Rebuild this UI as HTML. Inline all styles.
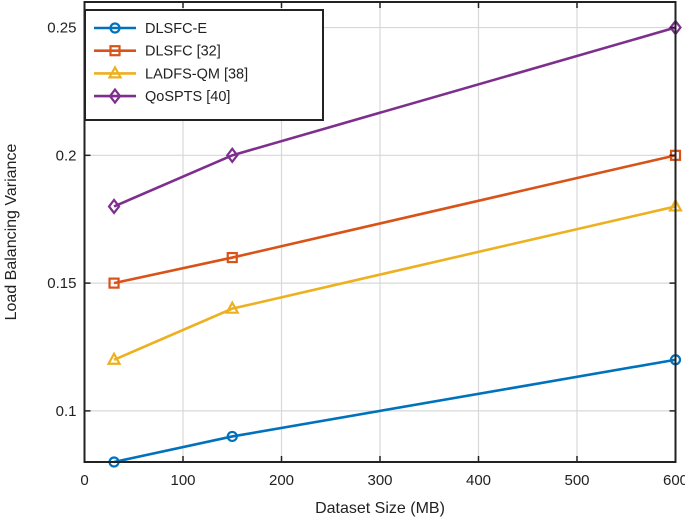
<!DOCTYPE html>
<html><head><meta charset="utf-8"><style>
body{margin:0;background:#fff}
svg{font-family:"Liberation Sans",Arial,sans-serif}
</style></head><body>
<svg id="chart" width="685" height="521">
<g id="grid"></g><g id="series"></g><g id="axes"></g><g id="legend"></g>
</svg>
<script>
const categories=[30,150,600];
const names=["DLSFC-E","DLSFC [32]","LADFS-QM [38]","QoSPTS [40]"];
const dlsfcE=[0.08,0.09,0.12];
const dlsfc=[0.15,0.16,0.20];
const ladfs=[0.12,0.14,0.18];
const qospts=[0.18,0.20,0.25];
const xTicks=[0,100,200,300,400,500,600];
const yTicks=[0.1,0.15,0.2,0.25];
const yTickLabels=["0.1","0.15","0.2","0.25"];
const L=84.5,R=675.5,T=2,B=462,x0=0,x1=600,y0=0.08,y1=0.26;
const sx=v=>L+(v-x0)/(x1-x0)*(R-L);
const sy=v=>B-(v-y0)/(y1-y0)*(B-T);
const NS="http://www.w3.org/2000/svg";
function mk(t,a,p){const e=document.createElementNS(NS,t);for(const k in a)e.setAttribute(k,a[k]);p.appendChild(e);return e;}
const grid=document.getElementById('grid'),axes=document.getElementById('axes'),ser=document.getElementById('series'),leg=document.getElementById('legend');
xTicks.forEach(v=>{
 const l=mk('line',{x1:sx(v),x2:sx(v),y1:T,y2:B,stroke:'#d8d8d8','stroke-width':1.2},grid);
 
 
 mk('line',{x1:sx(v),x2:sx(v),y1:B,y2:B-6,stroke:'#222','stroke-width':1.5},axes);
 mk('line',{x1:sx(v),x2:sx(v),y1:T,y2:T+6,stroke:'#222','stroke-width':1.5},axes);
 const t=mk('text',{x:sx(v),y:B+23,'text-anchor':'middle','font-size':15,fill:'#222'},axes);t.textContent=v;
 
 
});
yTicks.forEach((v,i)=>{
 const l=mk('line',{x1:L,x2:R,y1:sy(v),y2:sy(v),stroke:'#d8d8d8','stroke-width':1.2},grid);
 
 
 mk('line',{x1:L,x2:L+6,y1:sy(v),y2:sy(v),stroke:'#222','stroke-width':1.5},axes);
 mk('line',{x1:R,x2:R-6,y1:sy(v),y2:sy(v),stroke:'#222','stroke-width':1.5},axes);
 const t=mk('text',{x:L-8,y:sy(v)+5,'text-anchor':'end','font-size':15,fill:'#222'},axes);t.textContent=yTickLabels[i];
 
 
});
const fr=mk('rect',{x:L,y:T,width:R-L,height:B-T,fill:'none',stroke:'#222','stroke-width':2},axes);


const xt=mk('text',{x:(L+R)/2,y:513,'text-anchor':'middle','font-size':16,fill:'#222'},axes);xt.textContent='Dataset Size (MB)';


const yt=mk('text',{x:0,y:0,'text-anchor':'middle','font-size':16,fill:'#222',transform:`translate(16,${(T+B)/2}) rotate(-90)`},axes);yt.textContent='Load Balancing Variance';


const colors=['#0072bd','#d95319','#edb120','#7e2f8e'];
const data=[dlsfcE,dlsfc,ladfs,qospts];
const shapes=['circle','square','triangle','diamond'];
function marker(sh,x,y,c,p){
 if(sh==='circle')return mk('circle',{cx:x,cy:y,r:4.5,fill:'none',stroke:c,'stroke-width':2.2},p);
 if(sh==='square')return mk('rect',{x:x-4.5,y:y-4.5,width:9,height:9,fill:'none',stroke:c,'stroke-width':2.2},p);
 if(sh==='triangle')return mk('polygon',{points:`${x},${y-6} ${x-5.5},${y+4} ${x+5.5},${y+4}`,fill:'none',stroke:c,'stroke-width':2.2},p);
 return mk('polygon',{points:`${x},${y-6.5} ${x+5},${y} ${x},${y+6.5} ${x-5},${y}`,fill:'none',stroke:c,'stroke-width':2.2},p);
}
data.forEach((arr,s)=>{
 const g=mk('g',{},ser);
 
 
 const pl=mk('polyline',{points:arr.map((v,i)=>sx(categories[i])+','+sy(v)).join(' '),fill:'none',stroke:colors[s],'stroke-width':2.6},g);
 
 
 arr.forEach((v,i)=>{const m=marker(shapes[s],sx(categories[i]),sy(v),colors[s],g);
  
  });
});
const lb=mk('rect',{x:85,y:10,width:238,height:110,fill:'#fff',stroke:'#222','stroke-width':2},leg);


names.forEach((n,s)=>{
 const y=28+s*22.7;
 const g=mk('g',{},leg);
 
 
 mk('line',{x1:94,x2:136,y1:y,y2:y,stroke:colors[s],'stroke-width':2.6},g);
 marker(shapes[s],115,y,colors[s],g);
 const t=mk('text',{x:145,y:y+5,'font-size':14.5,fill:'#222'},g);t.textContent=n;
});
</script>
</body></html>
